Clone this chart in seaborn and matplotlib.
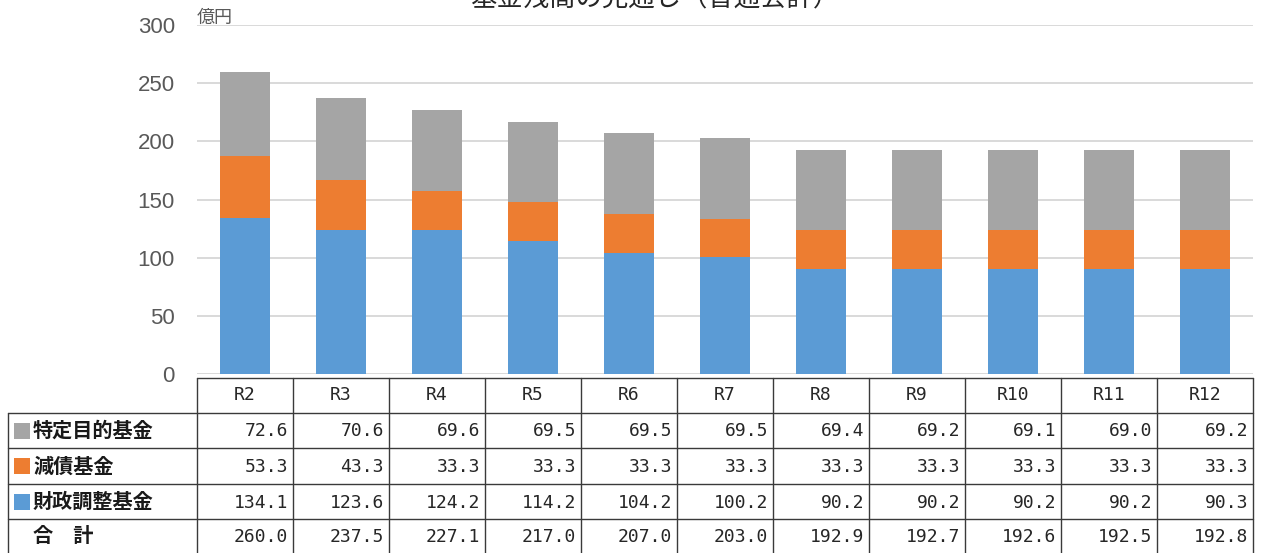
import numpy as np
import pandas as pd
import matplotlib
matplotlib.use("Agg")
import matplotlib.pyplot as plt
import seaborn as sns

# 年度と基金別残高（億円）
years = ["R2", "R3", "R4", "R5", "R6", "R7", "R8", "R9", "R10", "R11", "R12"]
tokutei = [72.6, 70.6, 69.6, 69.5, 69.5, 69.5, 69.4, 69.2, 69.1, 69.0, 69.2]
gensai = [53.3, 43.3, 33.3, 33.3, 33.3, 33.3, 33.3, 33.3, 33.3, 33.3, 33.3]
zaisei = [134.1, 123.6, 124.2, 114.2, 104.2, 100.2, 90.2, 90.2, 90.2, 90.2, 90.3]
series_names = ["特定目的基金", "減債基金", "財政調整基金"]
total_label = "合　計"
title = "基金残高の見通し（普通会計）"
unit = "億円"
y_ticks = [0, 50, 100, 150, 200, 250, 300]

C_GRAY = "#a5a5a5"
C_ORANGE = "#ed7d31"
C_BLUE = "#5b9bd5"

sns.set_style("white")
plt.rcParams["font.family"] = ["Noto Sans CJK JP", "DejaVu Sans"]

df = pd.DataFrame({"year": years, "tokutei": tokutei, "gensai": gensai, "zaisei": zaisei})
df["lower"] = df["zaisei"]
df["middle"] = df["zaisei"] + df["gensai"]
df["total"] = df["middle"] + df["tokutei"]

W, H = 1264, 553
fig = plt.figure(figsize=(W / 100, H / 100), dpi=100)

# plot area in pixel terms
x0, x1 = 197, 1253
y_top, y_zero = 25, 374
ax = fig.add_axes([x0 / W, 1 - y_zero / H, (x1 - x0) / W, (y_zero - y_top) / H])

# stacked bars drawn as cumulative heights, tallest first
for col, color in [("total", C_GRAY), ("middle", C_ORANGE), ("lower", C_BLUE)]:
    sns.barplot(data=df, x="year", y=col, color=color, saturation=1,
                width=0.52, linewidth=0, edgecolor=color, ax=ax, zorder=3)

ax.set_xlim(-0.5, len(years) - 0.5)
ax.set_ylim(0, 300)
ax.set_yticks(y_ticks)
ax.yaxis.grid(True, color="#d9d9d9", linewidth=1.4, zorder=0)
ax.set_axisbelow(True)
for s in ax.spines.values():
    s.set_visible(False)
ax.set_xlabel("")
ax.set_ylabel("")
ax.set_xticks([])
ax.tick_params(axis="y", length=0, pad=16, labelcolor="#595959")
for lab in ax.get_yticklabels():
    lab.set_fontfamily(["Liberation Sans Narrow", "Liberation Sans", "DejaVu Sans"])
    lab.set_fontsize(16)

fig.text(x0 / W, 1 - 27 / H, unit, fontsize=13, color="#595959",
         ha="left", va="bottom")
fig.text(655 / W, 1 - 6 / H, title, fontsize=19, color="#262626",
         ha="center", va="baseline")

# data table under the plot
tab = fig.add_axes([0, 0, 1, 1])
tab.set_xlim(0, W)
tab.set_ylim(H, 0)
tab.axis("off")
tab.patch.set_alpha(0)

n = len(years)
colw = (x1 - x0) / n
col_edges = [x0 + i * colw for i in range(n + 1)]
row_edges = [378, 413, 448, 484, 519, 553]
lab_left = 8
lc = "#3a3a3a"
lw = 1.0

# horizontal rules
tab.plot([x0, x1], [row_edges[0]] * 2, color=lc, lw=lw)
for r in row_edges[1:5]:
    tab.plot([lab_left, x1], [r, r], color=lc, lw=lw)
# vertical rules
tab.plot([lab_left, lab_left], [row_edges[1], H], color=lc, lw=lw)
for cx in col_edges:
    tab.plot([cx, cx], [row_edges[0], H], color=lc, lw=lw)

num_font = dict(fontfamily="DejaVu Sans Mono", fontsize=13, color="#262626")
for i, yr in enumerate(years):
    cx = (col_edges[i] + col_edges[i + 1]) / 2
    tab.text(cx, (row_edges[0] + row_edges[1]) / 2, yr, ha="center", va="center",
             **num_font)

rows = [tokutei, gensai, zaisei, list(df["total"].round(1))]
colors = [C_GRAY, C_ORANGE, C_BLUE, None]
labels = series_names + [total_label]
for r, (vals, c, lab) in enumerate(zip(rows, colors, labels)):
    yc = (row_edges[r + 1] + row_edges[r + 2]) / 2
    for i, v in enumerate(vals):
        tab.text(col_edges[i + 1] - 5, yc + 1, f"{v:.1f}", ha="right", va="center",
                 **num_font)
    if c is not None:
        tab.add_patch(plt.Rectangle((14, yc - 8), 16, 16, color=c, lw=0))
    tab.text(33, yc, lab, ha="left", va="center", fontsize=14.5,
             fontweight="bold", color="#1a1a1a")

fig.savefig("out.png", dpi=100)
